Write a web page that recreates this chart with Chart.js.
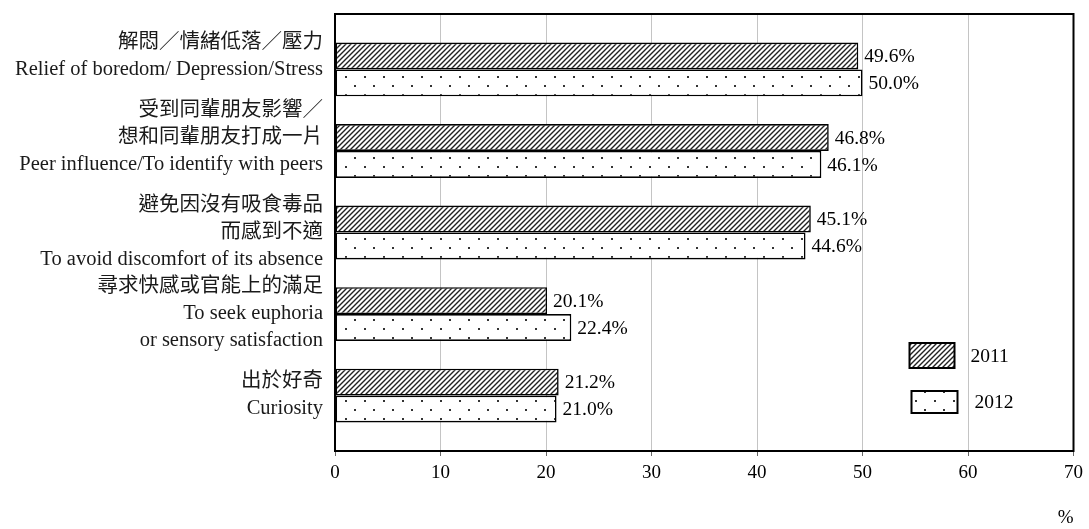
<!DOCTYPE html>
<html>
<head>
<meta charset="utf-8">
<script src="https://cdn.jsdelivr.net/npm/chart.js@4.4.1/dist/chart.umd.min.js"></script>
<style>
  body { margin: 0; background: #fff; }
  #wrap { width: 1089px; height: 529px; }
</style>
</head>
<body>
<div id="wrap"><canvas id="reasons" width="1089" height="529"></canvas></div>
<script>
// reasons for drug use, 2011 vs 2012 (%)
const categoryLabels = [
    ['解悶／情緒低落／壓力', 'Relief of boredom/ Depression/Stress', ''],
    ['受到同輩朋友影響／', '想和同輩朋友打成一片', 'Peer influence/To identify with peers', ''],
    ['避免因沒有吸食毒品', '而感到不適', 'To avoid discomfort of its absence'],
    ['尋求快感或官能上的滿足', 'To seek euphoria', 'or sensory satisfaction'],
    ['出於好奇', 'Curiosity']
];
const values2011 = [49.6, 46.8, 45.1, 20.1, 21.2];
const values2012 = [50.0, 46.1, 44.6, 22.4, 21.0];
const seriesNames = ['2011', '2012'];
const xTicks = [0, 10, 20, 30, 40, 50, 60, 70];

const FONT = "'Liberation Serif', 'Noto Sans CJK TC', serif";

function makeHatch() {
    const c = document.createElement('canvas');
    c.width = 5; c.height = 5;
    const g = c.getContext('2d');
    g.fillStyle = '#fff';
    g.fillRect(0, 0, 5, 5);
    g.strokeStyle = '#222';
    g.lineWidth = 1.4;
    g.beginPath();
    g.moveTo(-1, 6); g.lineTo(6, -1);
    g.moveTo(-1, 1); g.lineTo(1, -1);
    g.moveTo(4, 6); g.lineTo(6, 4);
    g.stroke();
    return g.createPattern(c, 'repeat');
}

function makeDots() {
    const c = document.createElement('canvas');
    c.width = 19; c.height = 18;
    const g = c.getContext('2d');
    g.fillStyle = '#fff';
    g.fillRect(0, 0, 19, 18);
    g.fillStyle = '#333';
    g.fillRect(3, 4, 2, 2);
    g.fillRect(12, 13, 2, 2);
    return g.createPattern(c, 'repeat');
}

const hatch = makeHatch();
const dots = makeDots();
const fills = [hatch, dots];

const barLabels = {
    id: 'barLabels',
    afterDatasetsDraw(chart) {
        const ctx = chart.ctx;
        ctx.save();
        ctx.font = '19.5px ' + FONT;
        ctx.fillStyle = '#000';
        ctx.textBaseline = 'middle';
        ctx.textAlign = 'left';
        chart.data.datasets.forEach((ds, di) => {
            chart.getDatasetMeta(di).data.forEach((bar, i) => {
                ctx.fillText(ds.data[i].x.toFixed(1) + '%', bar.x + 6, bar.y + 1);
            });
        });
        ctx.restore();
    }
};

const frameAndLegend = {
    id: 'frameAndLegend',
    afterDraw(chart) {
        const ctx = chart.ctx;
        const a = chart.chartArea;
        ctx.save();
        ctx.strokeStyle = '#000';
        ctx.lineWidth = 2;
        ctx.strokeRect(a.left, a.top, a.right - a.left, a.bottom - a.top);

        // legend inside the plot, lower right
        const items = [
            { top: a.bottom - 108, left: a.right - 164, w: 45, h: 25, tx: a.right - 103 },
            { top: a.bottom - 60, left: a.right - 162, w: 46, h: 22, tx: a.right - 99 }
        ];
        ctx.font = '19.5px ' + FONT;
        ctx.textBaseline = 'middle';
        ctx.textAlign = 'left';
        items.forEach((it, i) => {
            ctx.fillStyle = fills[i];
            ctx.fillRect(it.left, it.top, it.w, it.h);
            ctx.lineWidth = 2;
            ctx.strokeRect(it.left, it.top, it.w, it.h);
            ctx.fillStyle = '#000';
            ctx.fillText(chart.data.datasets[i].label, it.tx, it.top + it.h / 2 + 1);
        });
        ctx.restore();
    }
};

new Chart(document.getElementById('reasons'), {
    type: 'bar',
    data: {
        datasets: [
            {
                label: seriesNames[0],
                data: values2011.map((v, i) => ({ x: v, y: i })),
                backgroundColor: hatch,
                borderColor: '#000',
                borderWidth: 1.6,
                borderSkipped: false
            },
            {
                label: seriesNames[1],
                data: values2012.map((v, i) => ({ x: v, y: i })),
                backgroundColor: dots,
                borderColor: '#000',
                borderWidth: 1.6,
                borderSkipped: false
            }
        ]
    },
    options: {
        indexAxis: 'y',
        responsive: false,
        animation: false,
        categoryPercentage: 0.66,
        barPercentage: 1.0,
        layout: { padding: { top: 14, right: 11, bottom: 0, left: 0 } },
        plugins: {
            legend: { display: false },
            tooltip: { enabled: false }
        },
        scales: {
            x: {
                type: 'linear',
                min: xTicks[0],
                max: xTicks[xTicks.length - 1],
                afterBuildTicks: s => { s.ticks = xTicks.map(v => ({ value: v })); },
                afterFit: s => { s.height = 78; },
                grid: { color: '#c4c4c4', lineWidth: 1, tickLength: 5, tickColor: '#666' },
                border: { display: true, color: '#000', width: 2 },
                ticks: {
                    font: { family: FONT, size: 19 },
                    color: '#000',
                    padding: 6,
                    maxRotation: 0
                },
                title: {
                    display: true,
                    text: '%',
                    align: 'end',
                    color: '#000',
                    font: { family: FONT, size: 19 },
                    padding: { top: 0, bottom: 0 }
                }
            },
            y: {
                type: 'linear',
                reverse: true,
                offset: false,
                min: -0.68,
                max: categoryLabels.length - 1 + 0.68,
                afterBuildTicks: s => { s.ticks = categoryLabels.map((_, i) => ({ value: i })); },
                afterFit: s => { s.width = 335; s.paddingTop = 0; s.paddingBottom = 0; },
                grid: { display: false, drawTicks: false, offset: false },
                border: { display: true, color: '#000', width: 2 },
                ticks: {
                    autoSkip: false,
                    font: { family: FONT, size: 20.5, lineHeight: 1.32 },
                    color: '#1a1a1a',
                    padding: 12,
                    callback: v => categoryLabels[v]
                }
            }
        }
    },
    plugins: [barLabels, frameAndLegend]
});
</script>
</body>
</html>
